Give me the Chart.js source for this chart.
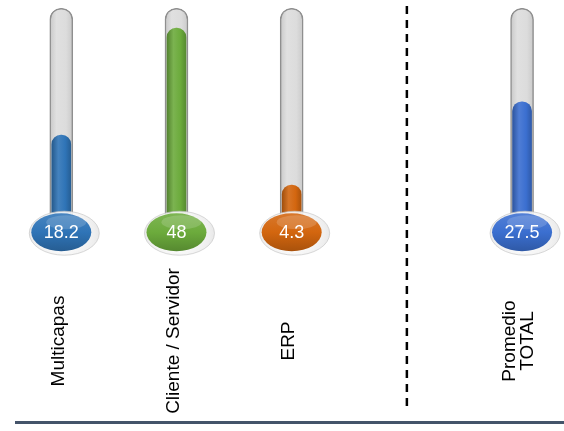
<!DOCTYPE html>
<html>
<head>
<meta charset="utf-8">
<script src="https://cdn.jsdelivr.net/npm/chart.js@4.4.1/dist/chart.umd.min.js"></script>
<style>
  html, body { margin: 0; padding: 0; background: #ffffff; overflow: hidden; }
  #wrap { position: relative; width: 564px; height: 431px; }
</style>
</head>
<body>
<div id="wrap"><canvas id="chart"></canvas></div>
<script>
// slots along the axis; the empty one holds the dashed divider
const categories = ['Multicapas', 'Cliente / Servidor', 'ERP', '', ['Promedio', 'TOTAL']];
const values = [18.2, 48, 4.3, null, 27.5];
const colors = ['#2f74b7', '#6cab3c', '#d3660f', null, '#3b6fd0'];
const tubeTop = 53.5;

const BULB_Y = -8.8;   // bulb centre, in value units
const BAR_BASE = -5;

const points = categories.map((c, i) => ({ x: i, y: values[i] }));
const tubes = categories.map((c, i) => ({ x: i, y: values[i] === null ? null : tubeTop }));
const dividerIndex = categories.indexOf('');

function shade(hex, amt) {
    const n = parseInt(hex.slice(1), 16);
    let r = (n >> 16) & 255, g = (n >> 8) & 255, b = n & 255;
    const f = v => Math.max(0, Math.min(255, Math.round(amt < 0 ? v * (1 + amt) : v + (255 - v) * amt)));
    return `rgb(${f(r)},${f(g)},${f(b)})`;
}

function fillGradient(ctx) {
    const chart = ctx.chart;
    const i = ctx.dataIndex;
    const col = colors[i];
    if (!col || !chart.chartArea) return col || 'transparent';
    const x = chart.scales.x.getPixelForValue(i);
    const g = chart.ctx.createLinearGradient(x - 10, 0, x + 10, 0);
    g.addColorStop(0, shade(col, -0.25));
    g.addColorStop(0.35, shade(col, 0.1));
    g.addColorStop(0.7, col);
    g.addColorStop(1, shade(col, -0.2));
    return g;
}

function tubeGradient(ctx) {
    const chart = ctx.chart;
    if (!chart.chartArea) return '#dcdcdc';
    const x = chart.scales.x.getPixelForValue(ctx.dataIndex);
    const g = chart.ctx.createLinearGradient(x - 12, 0, x + 12, 0);
    g.addColorStop(0, '#c6c6c6');
    g.addColorStop(0.3, '#e0e0e0');
    g.addColorStop(0.7, '#dcdcdc');
    g.addColorStop(1, '#c8c8c8');
    return g;
}

const thermoPlugin = {
    id: 'thermo',
    beforeDatasetsDraw(chart) {
        const { ctx, scales: { x } } = chart;
        // dashed divider
        const dx = x.getPixelForValue(dividerIndex);
        ctx.save();
        ctx.strokeStyle = '#000000';
        ctx.lineWidth = 2.5;
        ctx.setLineDash([8, 6]);
        ctx.beginPath();
        ctx.moveTo(dx, 6);
        ctx.lineTo(dx, 412);
        ctx.stroke();
        ctx.restore();
    },
    afterDatasetsDraw(chart) {
        const { ctx, scales: { x, y } } = chart;
        const by = y.getPixelForValue(BULB_Y);
        values.forEach((v, i) => {
            if (v === null) return;
            const cx = x.getPixelForValue(i);
            const col = colors[i];
            ctx.save();
            // halo
            const hg = ctx.createRadialGradient(cx, by, 12, cx + 3, by + 2, 38);
            hg.addColorStop(0, 'rgba(255,255,255,0.9)');
            hg.addColorStop(0.75, 'rgba(236,236,236,0.9)');
            hg.addColorStop(1, 'rgba(215,215,215,0.55)');
            ctx.fillStyle = hg;
            ctx.beginPath();
            ctx.ellipse(cx + 3, by + 1, 35, 22, 0, 0, Math.PI * 2);
            ctx.fill();
            ctx.strokeStyle = 'rgba(195,195,195,0.65)';
            ctx.lineWidth = 1;
            ctx.stroke();
            // bulb
            const bg = ctx.createLinearGradient(0, by - 19, 0, by + 19);
            bg.addColorStop(0, shade(col, 0.12));
            bg.addColorStop(0.5, col);
            bg.addColorStop(1, shade(col, -0.2));
            ctx.fillStyle = bg;
            ctx.beginPath();
            ctx.ellipse(cx, by, 30, 19, 0, 0, Math.PI * 2);
            ctx.fill();
            // gloss
            ctx.fillStyle = 'rgba(255,255,255,0.16)';
            ctx.beginPath();
            ctx.ellipse(cx + 5, by - 10, 20, 7, 0, 0, Math.PI * 2);
            ctx.fill();
            // value
            ctx.fillStyle = '#ffffff';
            ctx.font = '18px "Liberation Sans", Arial, sans-serif';
            ctx.textAlign = 'center';
            ctx.textBaseline = 'middle';
            ctx.fillText(String(v), cx, by + 1);
            ctx.restore();
        });
    },
    afterDraw(chart) {
        const { ctx, scales: { x } } = chart;
        ctx.save();
        ctx.beginPath();
        ctx.rect(0, 0, 564, 421);
        ctx.clip();
        ctx.fillStyle = '#000000';
        ctx.font = '19px "Liberation Sans", Arial, sans-serif';
        ctx.textAlign = 'center';
        ctx.textBaseline = 'middle';
        categories.forEach((lab, i) => {
            if (!lab || lab.length === 0) return;
            const lines = Array.isArray(lab) ? lab : [lab];
            const cx = x.getPixelForValue(i);
            ctx.save();
            ctx.translate(cx - 3, 341);
            ctx.rotate(-Math.PI / 2);
            lines.forEach((ln, k) => {
                ctx.fillText(ln, 0, (k - (lines.length - 1) / 2) * 18);
            });
            ctx.restore();
        });
        ctx.restore();
        // base line
        ctx.save();
        ctx.strokeStyle = '#44546a';
        ctx.lineWidth = 3;
        ctx.beginPath();
        ctx.moveTo(15, 422.5);
        ctx.lineTo(564, 422.5);
        ctx.stroke();
        ctx.restore();
    }
};

new Chart(document.getElementById('chart'), {
    type: 'bar',
    data: {
        datasets: [
            {
                label: 'valor',
                data: points,
                base: BAR_BASE,
                grouped: false,
                barThickness: 19,
                backgroundColor: fillGradient,
                borderRadius: { topLeft: 10, topRight: 10 },
                borderSkipped: 'bottom'
            },
            {
                label: 'tubo',
                data: tubes,
                base: BAR_BASE,
                grouped: false,
                barThickness: 23,
                backgroundColor: tubeGradient,
                borderColor: '#8f8f8f',
                borderWidth: 1.5,
                borderRadius: { topLeft: 12, topRight: 12 },
                borderSkipped: 'bottom'
            }
        ]
    },
    options: {
        responsive: true,
        maintainAspectRatio: false,
        animation: false,
        layout: { padding: 0 },
        plugins: {
            legend: { display: false },
            tooltip: { enabled: false }
        },
        scales: {
            x: { type: 'linear', display: false, offset: false, min: -0.532, max: 4.364 },
            y: { display: false, min: -64.1, max: 55.8 }
        }
    },
    plugins: [thermoPlugin]
});
</script>
</body>
</html>
